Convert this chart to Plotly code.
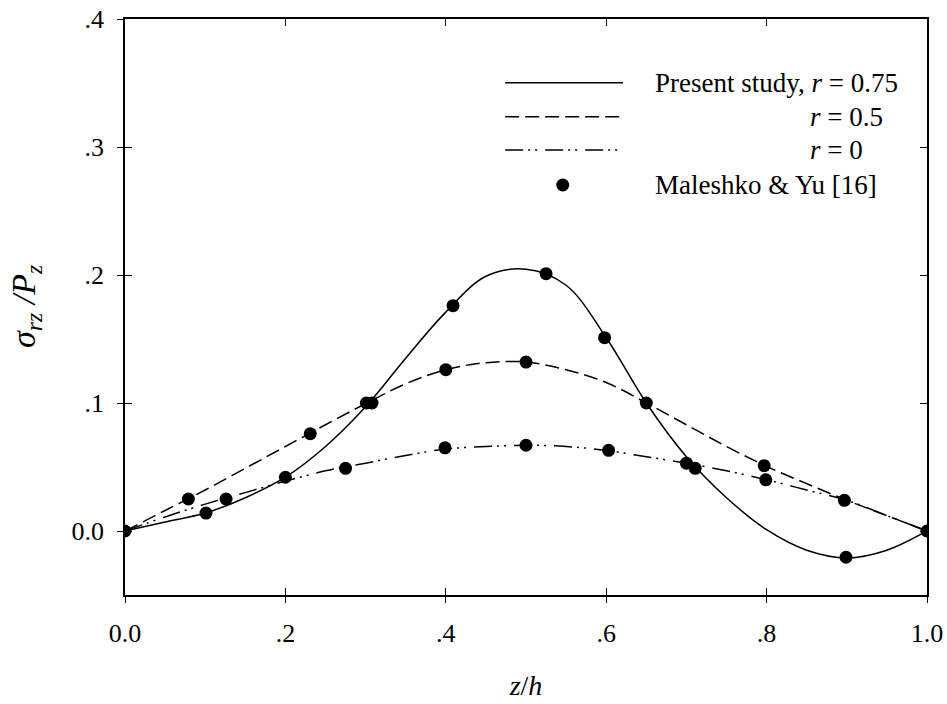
import plotly.graph_objects as go

# ---------------- data ----------------
z_grid = [0.0, 0.05, 0.10, 0.15, 0.20, 0.25, 0.30, 0.35, 0.40, 0.45, 0.50,
          0.55, 0.60, 0.65, 0.70, 0.75, 0.80, 0.85, 0.90, 0.95, 1.0]
present_r075 = [0.0, 0.007, 0.014, 0.026, 0.042, 0.066, 0.097, 0.135, 0.171, 0.199, 0.2045,
                0.192, 0.151, 0.100, 0.058, 0.026, 0.001, -0.015, -0.021, -0.015, 0.0]
present_r05 = [0.0, 0.016, 0.032, 0.049, 0.066, 0.083, 0.0995, 0.115, 0.126, 0.1315, 0.132,
               0.126, 0.116, 0.100, 0.083, 0.066, 0.0505, 0.037, 0.024, 0.012, 0.0]
present_r0 = [0.0, 0.011, 0.021, 0.030, 0.039, 0.047, 0.053, 0.059, 0.064, 0.066, 0.067,
              0.066, 0.063, 0.058, 0.053, 0.047, 0.040, 0.032, 0.024, 0.012, 0.0]

maleshko_z = [0.0, 0.079, 0.101, 0.126, 0.200, 0.231, 0.275, 0.301, 0.308, 0.400, 0.399,
              0.409, 0.500, 0.500, 0.525, 0.598, 0.603, 0.650, 0.700, 0.711, 0.797,
              0.799, 0.897, 0.899, 1.0]
maleshko_s = [0.0, 0.025, 0.014, 0.025, 0.042, 0.076, 0.049, 0.100, 0.100, 0.126, 0.065,
              0.176, 0.132, 0.067, 0.201, 0.151, 0.063, 0.100, 0.053, 0.049, 0.051,
              0.040, 0.024, -0.0205, 0.0]

x_tickvals = [0.0, 0.2, 0.4, 0.6, 0.8, 1.0]
x_ticktext = ["0.0", ".2", ".4", ".6", ".8", "1.0"]
y_tickvals = [0.0, 0.1, 0.2, 0.3, 0.4]
y_ticktext = ["0.0", ".1", ".2", ".3", ".4"]

legend_labels = ["Present study, <i>r</i> = 0.75", "<i>r</i> = 0.5", "<i>r</i> = 0",
                 "Maleshko &amp; Yu [16]"]

# ---------------- styles ----------------
FONT = "Liberation Serif"
LW = 1.5
DASH_05 = "14px,6px"
DASH_0 = "18px,5px,2px,5px,2px,8px"

fig = go.Figure()
fig.add_trace(go.Scatter(x=z_grid, y=present_r05, mode="lines", line_shape="spline",
                         line=dict(color="black", width=LW, dash=DASH_05),
                         showlegend=False, hoverinfo="skip"))
fig.add_trace(go.Scatter(x=z_grid, y=present_r0, mode="lines", line_shape="spline",
                         line=dict(color="black", width=LW, dash=DASH_0),
                         showlegend=False, hoverinfo="skip"))
fig.add_trace(go.Scatter(x=z_grid, y=present_r075, mode="lines", line_shape="spline",
                         line=dict(color="black", width=LW),
                         showlegend=False, hoverinfo="skip"))
fig.add_trace(go.Scatter(x=maleshko_z, y=maleshko_s, mode="markers",
                         marker=dict(color="black", size=13, line=dict(width=0)),
                         showlegend=False, xaxis="x2", yaxis="y2"))

XR = [0, 1.0]
YR = [-0.05, 0.4]
tickfont = dict(family=FONT, size=26, color="black")

fig.update_layout(
    width=947, height=704,
    margin=dict(l=125, r=20, t=19, b=109),
    paper_bgcolor="white", plot_bgcolor="white",
    font=dict(family=FONT, color="black"),
    xaxis=dict(range=XR, showgrid=False, zeroline=False, showline=True, linecolor="black",
               linewidth=1.5, mirror="ticks", ticks="inside", ticklen=7, tickwidth=1.2,
               tickcolor="black", tickvals=x_tickvals, ticktext=x_ticktext,
               tickfont=tickfont, ticklabelstandoff=14, automargin=False,
               title=dict(text="<i>z</i>/<i>h</i>", font=dict(family=FONT, size=28), standoff=28)),
    yaxis=dict(range=YR, showgrid=False, zeroline=False, showline=True, linecolor="black",
               linewidth=1.5, mirror="ticks", ticks="inside", ticklen=7, tickwidth=1.2,
               tickcolor="black", tickvals=y_tickvals, ticktext=y_ticktext,
               tickfont=tickfont, ticklabelstandoff=14, automargin=False),
    xaxis2=dict(range=XR, overlaying="x", anchor="y2", side="bottom", showgrid=False,
                zeroline=False, showline=False, ticks="outside", ticklen=7, tickwidth=1.2,
                tickcolor="black", tickvals=x_tickvals, showticklabels=False, automargin=False),
    yaxis2=dict(range=YR, overlaying="y", anchor="x2", side="left", showgrid=False,
                zeroline=False, showline=False, ticks="outside", ticklen=7, tickwidth=1.2,
                tickcolor="black", tickvals=y_tickvals, showticklabels=False, automargin=False),
)

# y-axis title as an annotation
fig.add_annotation(text="<i>σ<sub>rz</sub> /P<sub>z</sub></i>", xref="paper", yref="paper",
                   x=0, y=0.5, xshift=-122, textangle=-90, showarrow=False,
                   font=dict(family=FONT, size=34, color="black"))

# ---------------- hand-built legend (layout, not data) ----------------
leg_line_x = [0.474, 0.621]
leg_rows_y = [0.3502, 0.3237, 0.2977, 0.2703]
leg_text_x = [0.658, 0.852, 0.852, 0.658]
styles = [dict(color="black", width=LW), dict(color="black", width=LW, dash=DASH_05),
          dict(color="black", width=LW, dash=DASH_0)]
for i in range(3):
    fig.add_shape(type="line", xref="x", yref="y", x0=leg_line_x[0], x1=leg_line_x[1],
                  y0=leg_rows_y[i], y1=leg_rows_y[i], line=styles[i])
fig.add_shape(type="circle", xref="x", yref="y", xsizemode="pixel", ysizemode="pixel",
              xanchor=0.5458, yanchor=leg_rows_y[3], x0=-6.5, x1=6.5, y0=-6.5, y1=6.5,
              fillcolor="black", line=dict(width=0))
for i in range(4):
    fig.add_annotation(text=legend_labels[i], xref="x", yref="y", x=leg_text_x[i],
                       y=leg_rows_y[i], xanchor="left", yanchor="middle", showarrow=False,
                       font=dict(family=FONT, size=27, color="black"))

fig.write_html("out.html")
